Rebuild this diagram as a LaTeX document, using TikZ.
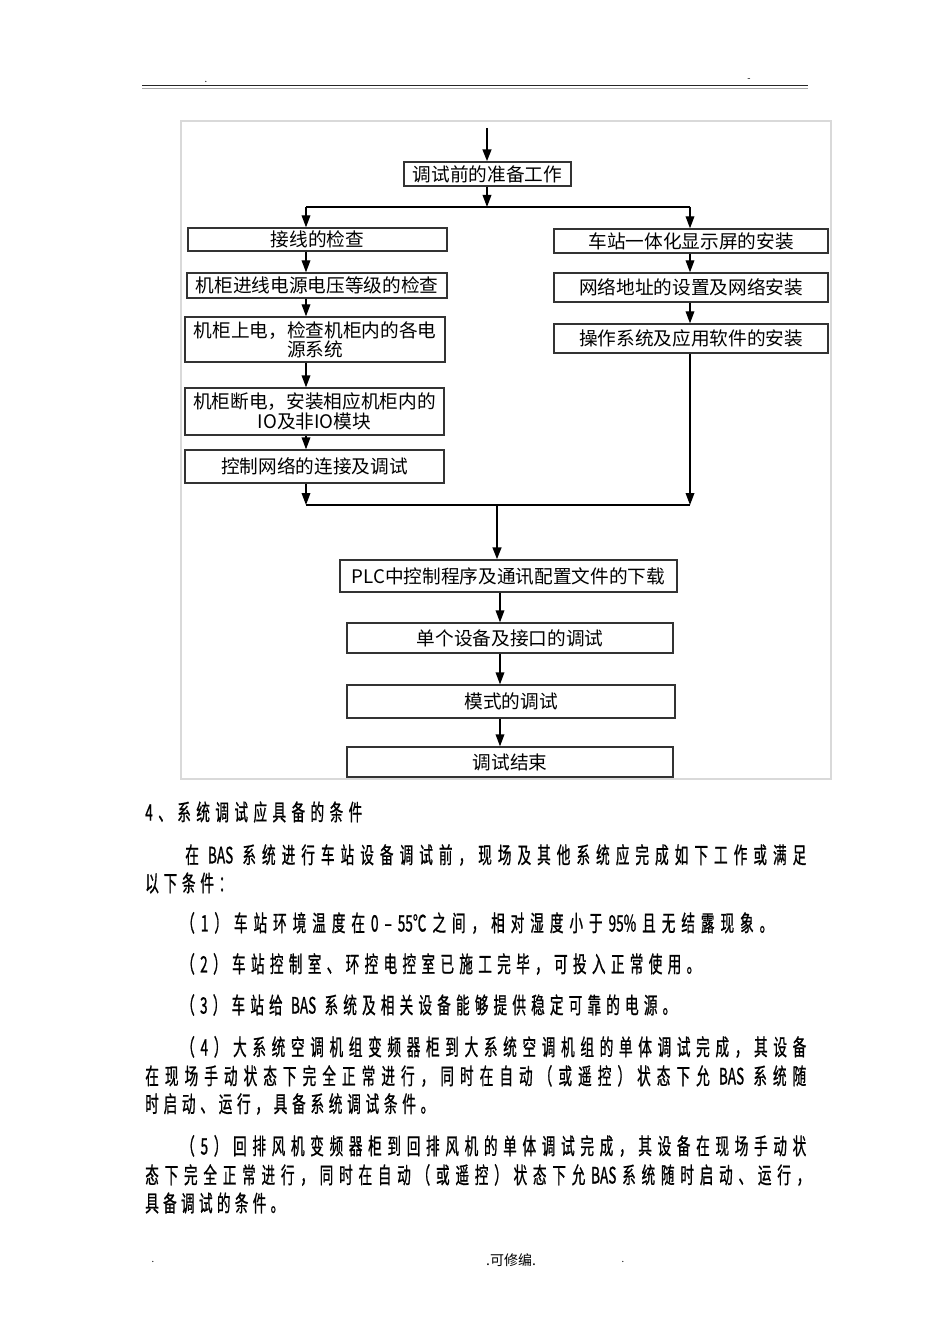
\documentclass[tikz,border=0pt]{standalone}
\usepackage{fontspec}
\usetikzlibrary{arrows.meta}
\newfontfamily\cjk{Noto Sans CJK SC}
\newfontfamily\cjkn[FakeStretch=0.6,FakeBold=0.8]{Noto Sans CJK SC}
\newdimen\px \px=0.75pt
\ExplSyntaxOn
\NewDocumentCommand\spreadline{mm}{\hbox_to_wd:nn {#1}{ \tl_map_inline:nn {#2}{##1\hfil} \skip_horizontal:n {0pt plus -1fil} }}
\ExplSyntaxOff
\tikzset{
  fbox/.style={draw=black!80, line width=1pt, inner sep=0pt, font=\cjk\fontsize{14}{14.5}\selectfont, align=center},
  arr/.style={-{Triangle[width=6.5pt,length=9pt]}, line width=1pt, black},
  body/.style={anchor=west, inner sep=0pt, font=\cjkn\fontsize{17}{17}\selectfont},
  tiny/.style={inner sep=0pt, font=\cjk\fontsize{7}{8}\selectfont}
}
\newcommand\fb[6]{\node[fbox, minimum width={(#4-#2)*0.75pt}, minimum height={(#5-#3)*0.75pt}] (#1) at ({(#2+#4)/2},{(#3+#5)/2}) {#6};}
\newcommand\bl[5]{\node[body] (#1) at (#2,#4) {\spreadline{\dimexpr #3\px - #2\px\relax}{#5}};}
\begin{document}
\begin{tikzpicture}[x=0.75pt,y=-0.75pt]
\useasboundingbox (0,0) rectangle (950,1344);
\fill[white] (0,0) rectangle (950,1344);
% header
\draw[line width=1.3pt, black!85] (142,85.5) -- (808,85.5);
\draw[line width=0.6pt, black!35] (142,88) -- (808,88);
\node[tiny] (hd1) at (206,82) {.};
\node[tiny] (hd2) at (749,80) {-};
% frame
\draw[black!15, line width=0.8pt] (181,121) rectangle (831,779);
% boxes
\fb{pre}{404}{162}{571}{186}{调试前的准备工作}
\fb{L1}{188}{228}{447}{251}{接线的检查}
\fb{L2}{187}{273}{447}{298}{机柜进线电源电压等级的检查}
\fb{L3}{185}{317}{445}{362}{机柜上电，检查机柜内的各电\\源系统}
\fb{L4}{185}{388}{444}{435}{机柜断电，安装相应机柜内的\\IO及非IO模块}
\fb{L5}{185}{450}{444}{483}{控制网络的连接及调试}
\fb{R1}{554}{229}{828}{253}{车站一体化显示屏的安装}
\fb{R2}{554}{273}{828}{302}{网络地址的设置及网络安装}
\fb{R3}{554}{324}{828}{353}{操作系统及应用软件的安装}
\fb{P}{340}{560}{677}{592}{PLC中控制程序及通讯配置文件的下载}
\fb{S}{347}{623}{673}{653}{单个设备及接口的调试}
\fb{M}{347}{685}{675}{718}{模式的调试}
\fb{E}{347}{747}{673}{777}{调试结束}
% coordinates
\coordinate (tin) at (487,128);
\coordinate (sl) at (306,207);
\coordinate (sm) at (487,207);
\coordinate (sr) at (690,207);
\coordinate (ml) at (306,505);
\coordinate (mc) at (497,505);
\coordinate (mr) at (690,505);
\coordinate (cc) at (500,600);
% connectors
\draw[arr, line width=1.8pt] (tin) -- (pre.north -| tin);
\draw[arr] (pre.south -| sm) -- (sm);
\draw[line width=1pt] (sl) -- (sr);
\draw[arr] (sl) -- (L1.north -| sl);
\draw[arr] (sr) -- (R1.north -| sr);
\draw[arr] (L1.south -| sl) -- (L2.north -| sl);
\draw[arr] (L2.south -| sl) -- (L3.north -| sl);
\draw[arr] (L3.south -| sl) -- (L4.north -| sl);
\draw[arr] (L4.south -| sl) -- (L5.north -| sl);
\draw[arr] (L5.south -| ml) -- (ml);
\draw[arr] (R1.south -| sr) -- (R2.north -| sr);
\draw[arr] (R2.south -| sr) -- (R3.north -| sr);
\draw[arr] (R3.south -| mr) -- (mr);
\draw[line width=1pt] (ml) -- (mr);
\draw[arr, line width=1.8pt] (mc) -- (P.north -| mc);
\draw[arr] (P.south -| cc) -- (S.north -| cc);
\draw[arr] (S.south -| cc) -- (M.north -| cc);
\draw[arr] (M.south -| cc) -- (E.north -| cc);
% body text
\bl{t0}{145}{362}{812}{4、系统调试应具备的条件}
\bl{t1}{185}{806}{855}{在{ BAS }系统进行车站设备调试前，现场及其他系统应完成如下工作或满足}
\bl{t2}{145}{232}{883}{以下条件：}
\bl{t3}{181}{773}{923}{（1）车站环境温度在{0}{–}{55℃}之间，相对湿度小于{95\%}且无结露现象。}
\bl{t4}{181}{700}{964}{（2）车站控制室、环控电控室已施工完毕，可投入正常使用。}
\bl{t5}{181}{676}{1005}{（3）车站给{ BAS }系统及相关设备能够提供稳定可靠的电源。}
\bl{t6}{181}{806}{1047}{（4）大系统空调机组变频器柜到大系统空调机组的单体调试完成，其设备}
\bl{t7}{145}{806}{1076}{在现场手动状态下完全正常进行，同时在自动（或遥控）状态下允{ BAS }系统随}
\bl{t8}{145}{434}{1104}{时启动、运行，具备系统调试条件。}
\bl{t9}{181}{806}{1146}{（5）回排风机变频器柜到回排风机的单体调试完成，其设备在现场手动状}
\bl{t10}{145}{810}{1175}{态下完全正常进行，同时在自动（或遥控）状态下允{BAS}系统随时启动、运行，}
\bl{t11}{145}{284}{1203}{具备调试的条件。}
% footer
\node[tiny] (ft1) at (153,1262) {.};
\node[inner sep=0pt, font=\cjk\fontsize{10.5}{11}\selectfont] (ft2) at (511,1260) {.可修编.};
\node[tiny] (ft3) at (623,1262) {.};
\end{tikzpicture}
\end{document}
